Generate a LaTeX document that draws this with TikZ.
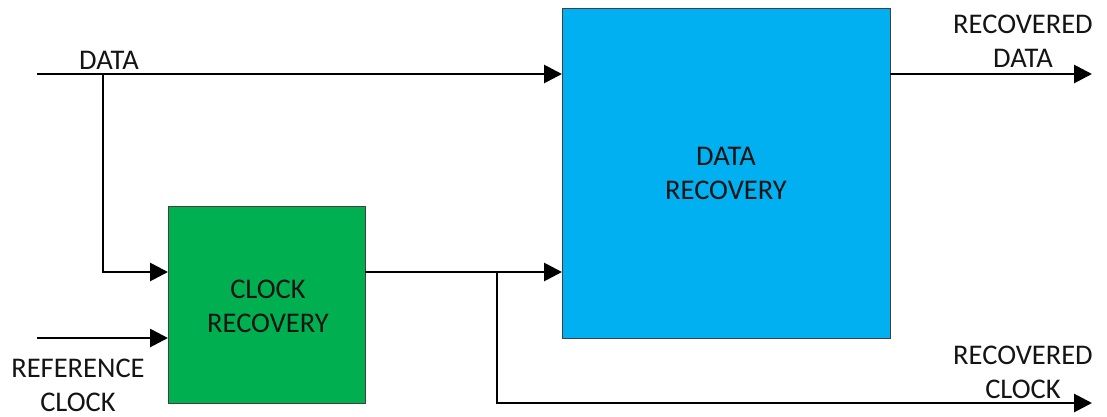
\documentclass[tikz,border=0pt]{standalone}
\usepackage{fontspec}
\setmainfont{Carlito}
\usetikzlibrary{arrows.meta}
\definecolor{blockblue}{HTML}{00B0F0}
\definecolor{blockgreen}{HTML}{00B050}
\definecolor{inktext}{HTML}{141414}
\tikzset{
  block/.style={draw=black!75, line width=1pt},
  sig/.style={line width=2.8pt, -{Triangle[length=18pt,width=18pt]}},
  lbl/.style={align=center, text=inktext, inner sep=0pt,
              font=\fontsize{28.5}{34}\selectfont},
}
\begin{document}
\begin{tikzpicture}[x=1pt,y=-1pt]
  \useasboundingbox (0,0) rectangle (1107,416);

  % processing blocks
  \fill[blockblue] (562,8) rectangle (890,338);
  \draw[block] (562,8) rectangle (890,338);
  \fill[blockgreen] (168,206) rectangle (365,403);
  \draw[block] (168,206) rectangle (365,403);

  % anchor points of the signal paths
  \coordinate (dataIn) at (37,74);
  \coordinate (dataTap) at (103,74);
  \coordinate (drDataIn) at (562,74);
  \coordinate (crDataIn) at (168,272);
  \coordinate (refIn) at (37,338);
  \coordinate (crRefIn) at (168,338);
  \coordinate (crOut) at (365,272);
  \coordinate (clkTap) at (497,272);
  \coordinate (drClkIn) at (562,272);
  \coordinate (drOut) at (890,74);
  \coordinate (recData) at (1092,74);
  \coordinate (recClk) at (1092,403);

  % block titles
  \node[lbl] (drLbl) at (726,173.5) {DATA\\RECOVERY};
  \node[lbl] (crLbl) at (268,306) {CLOCK\\RECOVERY};

  % signal names
  \node[lbl, anchor=base] (dataLbl) at (109,69) {DATA};
  \node[lbl] (refLbl) at (78,385) {REFERENCE\\CLOCK};
  \node[lbl] (rdLbl) at (1023,41.5) {RECOVERED\\DATA};
  \node[lbl] (rcLbl) at (1023,372) {RECOVERED\\CLOCK};

  % connections
  \draw[sig] (dataIn) -- (drDataIn);
  \draw[sig] (dataTap) |- (crDataIn);
  \draw[sig] (refIn) -- (crRefIn);
  \draw[sig] (crOut) -- (drClkIn);
  \draw[sig] (clkTap) |- (recClk);
  \draw[sig] (drOut) -- (recData);
\end{tikzpicture}
\end{document}
